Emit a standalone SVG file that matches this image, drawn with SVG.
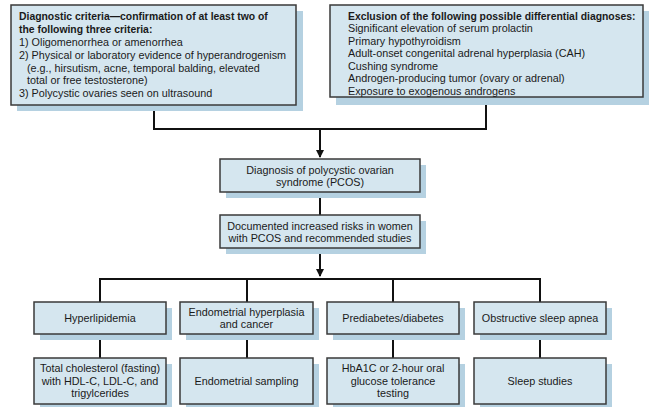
<svg xmlns="http://www.w3.org/2000/svg" width="652" height="407" viewBox="0 0 652 407">
<defs>
<style>
.sh{fill:#b5d1e1;}
.bx{fill:#d5e6ef;stroke:#3a3a3a;stroke-width:1.5;}
text{font-family:"Liberation Sans",Arial,sans-serif;font-size:10.8px;fill:#1a1a1a;}
.b{font-weight:bold;font-size:10.4px;}
.c{text-anchor:middle;}
.ln{fill:none;stroke:#111;stroke-width:2;}
</style>
<marker id="ah" markerWidth="8" markerHeight="10" refX="7" refY="4" orient="auto" markerUnits="userSpaceOnUse" viewBox="0 0 8 8">
<path d="M0,0 L8,4 L0,8 Z" fill="#111"/>
</marker>
</defs>
<rect width="652" height="407" fill="#fff"/>
<g id="connectors">
<polyline class="ln" points="154,105 154,129 486,129 486,97"/>
<line class="ln" x1="320" y1="129" x2="320" y2="157" marker-end="url(#ah)"/>
<line class="ln" x1="320" y1="192" x2="320" y2="215"/>
<line class="ln" x1="320" y1="248" x2="320" y2="276" marker-end="url(#ah)"/>
<polyline class="ln" points="100,302 100,279 540,279 540,302"/>
<line class="ln" x1="247" y1="279" x2="247" y2="302"/>
<line class="ln" x1="393" y1="279" x2="393" y2="302"/>
<line class="ln" x1="100" y1="334" x2="100" y2="358"/>
<line class="ln" x1="247" y1="334" x2="247" y2="358"/>
<line class="ln" x1="393" y1="334" x2="393" y2="358"/>
<line class="ln" x1="540" y1="334" x2="540" y2="358"/>
</g>
<g id="criteria">
<rect class="sh" x="17" y="11" width="286" height="100"/>
<rect class="bx" x="11" y="5" width="285" height="100"/>
<text x="19" y="20" class="b">Diagnostic criteria—confirmation of at least two of</text>
<text x="19" y="33" class="b">the following three criteria:</text>
<text x="19" y="46">1) Oligomenorrhea or amenorrhea</text>
<text x="19" y="59">2) Physical or laboratory evidence of hyperandrogenism</text>
<text x="27" y="72">(e.g., hirsutism, acne, temporal balding, elevated</text>
<text x="27" y="84">total or free testosterone)</text>
<text x="19" y="97">3) Polycystic ovaries seen on ultrasound</text>
</g>
<g id="exclusion">
<rect class="sh" x="336" y="11" width="313" height="94"/>
<rect class="bx" x="330" y="5" width="313" height="92"/>
<text x="348" y="20" class="b">Exclusion of the following possible differential diagnoses:</text>
<text x="348" y="32">Significant elevation of serum prolactin</text>
<text x="348" y="45">Primary hypothyroidism</text>
<text x="348" y="57">Adult-onset congenital adrenal hyperplasia (CAH)</text>
<text x="348" y="70">Cushing syndrome</text>
<text x="348" y="82">Androgen-producing tumor (ovary or adrenal)</text>
<text x="348" y="95">Exposure to exogenous androgens</text>
</g>
<g id="diagnosis">
<rect class="sh" x="226" y="165" width="200" height="33"/>
<rect class="bx" x="220" y="159" width="200" height="33"/>
<text x="320" y="174" class="c">Diagnosis of polycystic ovarian</text>
<text x="320" y="186" class="c">syndrome (PCOS)</text>
</g>
<g id="risks">
<rect class="sh" x="226" y="221" width="200" height="33"/>
<rect class="bx" x="220" y="215" width="200" height="33"/>
<text x="320" y="230" class="c">Documented increased risks in women</text>
<text x="320" y="242" class="c">with PCOS and recommended studies</text>
</g>
<g id="hyperlipidemia">
<rect class="sh" x="40" y="308" width="132" height="32"/>
<rect class="bx" x="34" y="302" width="132" height="32"/>
<text x="100" y="322" class="c">Hyperlipidemia</text>
</g>
<g id="endometrial">
<rect class="sh" x="186" y="308" width="133" height="32"/>
<rect class="bx" x="180" y="302" width="133" height="32"/>
<text x="246.5" y="316" class="c">Endometrial hyperplasia</text>
<text x="246.5" y="328" class="c">and cancer</text>
</g>
<g id="prediabetes">
<rect class="sh" x="333" y="308" width="132" height="32"/>
<rect class="bx" x="327" y="302" width="132" height="32"/>
<text x="393" y="322" class="c">Prediabetes/diabetes</text>
</g>
<g id="osa">
<rect class="sh" x="480" y="308" width="132" height="32"/>
<rect class="bx" x="474" y="302" width="132" height="32"/>
<text x="540" y="322" class="c">Obstructive sleep apnea</text>
</g>
<g id="cholesterol">
<rect class="sh" x="40" y="364" width="132" height="46"/>
<rect class="bx" x="34" y="358" width="132" height="46"/>
<text x="100" y="372" class="c">Total cholesterol (fasting)</text>
<text x="100" y="385" class="c">with HDL-C, LDL-C, and</text>
<text x="100" y="397" class="c">trigylcerides</text>
</g>
<g id="sampling">
<rect class="sh" x="186" y="364" width="133" height="46"/>
<rect class="bx" x="180" y="358" width="133" height="46"/>
<text x="246.5" y="385" class="c">Endometrial sampling</text>
</g>
<g id="glucose">
<rect class="sh" x="333" y="364" width="132" height="46"/>
<rect class="bx" x="327" y="358" width="132" height="46"/>
<text x="393" y="372" class="c">HbA1C or 2-hour oral</text>
<text x="393" y="385" class="c">glucose tolerance</text>
<text x="393" y="397" class="c">testing</text>
</g>
<g id="sleep">
<rect class="sh" x="480" y="364" width="132" height="46"/>
<rect class="bx" x="474" y="358" width="132" height="46"/>
<text x="540" y="385" class="c">Sleep studies</text>
</g>
</svg>
